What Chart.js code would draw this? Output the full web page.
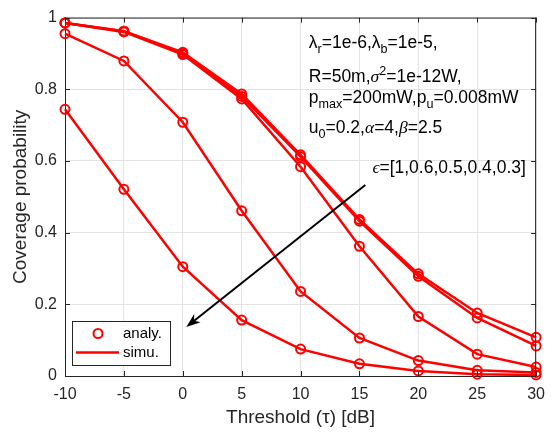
<!DOCTYPE html>
<html>
<head>
<meta charset="utf-8">
<script src="https://cdn.jsdelivr.net/npm/chart.js@4.4.1/dist/chart.umd.min.js"></script>
<style>
  html, body { margin: 0; padding: 0; background: #fff; }
</style>
</head>
<body>
<canvas id="cov" width="554" height="436"></canvas>
<script>
// threshold (dB) and coverage probability per epsilon
const thresholds = [-10, -5, 0, 5, 10, 15, 20, 25, 30];
const covEps1  = [0.985, 0.962, 0.903, 0.787, 0.617, 0.437, 0.285, 0.176, 0.108];
const covEps06 = [0.985, 0.962, 0.900, 0.780, 0.612, 0.432, 0.278, 0.162, 0.084];
const covEps05 = [0.985, 0.960, 0.897, 0.773, 0.584, 0.362, 0.166, 0.061, 0.025];
const covEps04 = [0.955, 0.879, 0.708, 0.461, 0.236, 0.106, 0.043, 0.016, 0.010];
const covEps03 = [0.744, 0.521, 0.305, 0.156, 0.075, 0.034, 0.014, 0.005, 0.003];
const xTicks = [-10, -5, 0, 5, 10, 15, 20, 25, 30];
const yTicks = [0, 0.2, 0.4, 0.6, 0.8, 1];

const INK = "#262626";
const RED = "#ff0000";
const FONT = '"Liberation Sans", Arial, sans-serif';

function series(vals) {
  return {
    data: thresholds.map((t, i) => ({ x: t, y: vals[i] })),
    borderColor: RED,
    borderWidth: 2.5,
    pointStyle: "circle",
    pointRadius: 4.5,
    pointBorderWidth: 2,
    pointBorderColor: RED,
    pointBackgroundColor: "rgba(0,0,0,0)",
    clip: false
  };
}

// text with sub/superscripts, left aligned on a baseline
function drawRich(ctx, x, y, parts, size) {
  ctx.textAlign = "left";
  ctx.textBaseline = "alphabetic";
  parts.forEach(([txt, kind]) => {
    let fs = size, dy = 0;
    if (kind === "sub") { fs = size * 0.72; dy = 5; }
    if (kind === "sup") { fs = size * 0.72; dy = -7; }
    let face = fs + "px " + FONT;
    if (kind === "g") face = "italic " + size + 'px "Liberation Serif", serif';
    ctx.font = face;
    ctx.fillText(txt, x, y + dy);
    x += ctx.measureText(txt).width;
  });
}

const extras = {
  id: "extras",
  afterDraw(chart) {
    const { ctx, chartArea: a, scales } = chart;
    const sx = scales.x, sy = scales.y;
    ctx.save();

    // box + inward ticks
    ctx.strokeStyle = INK;
    ctx.lineWidth = 1;
    ctx.beginPath();
    ctx.moveTo(a.left, a.top + 0.5); ctx.lineTo(a.right, a.top + 0.5);
    ctx.moveTo(a.right - 0.5, a.top); ctx.lineTo(a.right - 0.5, a.bottom);
    xTicks.forEach(v => {
      const px = Math.round(sx.getPixelForValue(v)) + 0.5;
      ctx.moveTo(px, a.bottom); ctx.lineTo(px, a.bottom - 5);
      ctx.moveTo(px, a.top); ctx.lineTo(px, a.top + 5);
    });
    yTicks.forEach(v => {
      const py = Math.round(sy.getPixelForValue(v)) + 0.5;
      ctx.moveTo(a.left, py); ctx.lineTo(a.left + 5, py);
      ctx.moveTo(a.right, py); ctx.lineTo(a.right - 5, py);
    });
    ctx.stroke();

    // parameter note
    ctx.fillStyle = "#000";
    const nx = sx.getPixelForValue(10.7);
    const fs = 17.5;
    drawRich(ctx, nx, 48, [["λ", ""], ["r", "sub"], ["=1e-6,λ", ""], ["b", "sub"], ["=1e-5,", ""]], fs);
    drawRich(ctx, nx, 82, [["R=50m,", ""], ["σ", "g"], ["2", "sup"], ["=1e-12W,", ""]], fs);
    drawRich(ctx, nx, 103, [["p", ""], ["max", "sub"], ["=200mW,p", ""], ["u", "sub"], ["=0.008mW", ""]], fs);
    drawRich(ctx, nx, 133, [["u", ""], ["0", "sub"], ["=0.2,", ""], ["α", "g"], ["=4,", ""], ["β", "g"], ["=2.5", ""]], fs);
    drawRich(ctx, sx.getPixelForValue(16.1), 173, [["ϵ", "g"], ["=[1,0.6,0.5,0.4,0.3]", ""]], fs);

    // arrow
    const x0 = sx.getPixelForValue(15.5), y0 = sy.getPixelForValue(0.533);
    const x1 = sx.getPixelForValue(0.3), y1 = sy.getPixelForValue(0.137);
    const ang = Math.atan2(y1 - y0, x1 - x0);
    ctx.strokeStyle = "#000";
    ctx.fillStyle = "#000";
    ctx.lineWidth = 2;
    ctx.beginPath();
    ctx.moveTo(x0, y0);
    ctx.lineTo(x1 - 8 * Math.cos(ang), y1 - 8 * Math.sin(ang));
    ctx.stroke();
    ctx.beginPath();
    ctx.moveTo(x1, y1);
    ctx.lineTo(x1 - 15 * Math.cos(ang - 0.35), y1 - 15 * Math.sin(ang - 0.35));
    ctx.lineTo(x1 - 10 * Math.cos(ang), y1 - 10 * Math.sin(ang));
    ctx.lineTo(x1 - 15 * Math.cos(ang + 0.35), y1 - 15 * Math.sin(ang + 0.35));
    ctx.closePath();
    ctx.fill();

    // legend
    const lx = a.left + 7, ly = 321, lw = 98, lh = 44;
    ctx.fillStyle = "#fff";
    ctx.fillRect(lx, ly, lw, lh);
    ctx.strokeStyle = INK;
    ctx.lineWidth = 1;
    ctx.strokeRect(lx + 0.5, ly + 0.5, lw, lh);
    ctx.strokeStyle = RED;
    ctx.lineWidth = 2;
    ctx.beginPath();
    ctx.arc(lx + 26, ly + 12.5, 4.5, 0, Math.PI * 2);
    ctx.stroke();
    ctx.lineWidth = 2.5;
    ctx.beginPath();
    ctx.moveTo(lx + 4, ly + 31.5); ctx.lineTo(lx + 47, ly + 31.5);
    ctx.stroke();
    ctx.fillStyle = "#000";
    ctx.font = "15px " + FONT;
    ctx.textBaseline = "middle";
    ctx.fillText("analy.", lx + 51, ly + 12.5);
    ctx.fillText("simu.", lx + 51, ly + 31.5);

    ctx.restore();
  }
};

new Chart(document.getElementById("cov"), {
  type: "line",
  data: {
    datasets: [covEps1, covEps06, covEps05, covEps04, covEps03].map(series)
  },
  options: {
    responsive: false,
    animation: false,
    layout: { padding: { top: 5, right: 14, left: 0, bottom: 0 } },
    plugins: { legend: { display: false }, tooltip: { enabled: false } },
    scales: {
      x: {
        type: "linear",
        min: -10, max: 30,
        afterBuildTicks: s => { s.ticks = xTicks.map(v => ({ value: v })); },
        afterFit: s => { s.height = 60; },
        grid: { color: "#e3e3e3", drawTicks: false },
        border: { color: INK, width: 1 },
        ticks: { color: INK, padding: 9, font: { family: FONT, size: 16 } },
        title: {
          display: true, text: "Threshold (τ) [dB]", color: INK,
          padding: { top: 0, bottom: 7 },
          font: { family: FONT, size: 19 }
        }
      },
      y: {
        min: 0, max: 1,
        afterBuildTicks: s => { s.ticks = yTicks.map(v => ({ value: v })); },
        afterFit: s => { s.width = 65; },
        grid: { color: "#e3e3e3", drawTicks: false },
        border: { color: INK, width: 1 },
        ticks: {
          color: INK, padding: 8, font: { family: FONT, size: 16 },
          callback: v => String(Number(v.toFixed(1)))
        },
        title: {
          display: true, text: "Coverage probability", color: INK,
          padding: { top: 9, bottom: 0 },
          font: { family: FONT, size: 19 }
        }
      }
    }
  },
  plugins: [extras]
});
</script>
</body>
</html>
